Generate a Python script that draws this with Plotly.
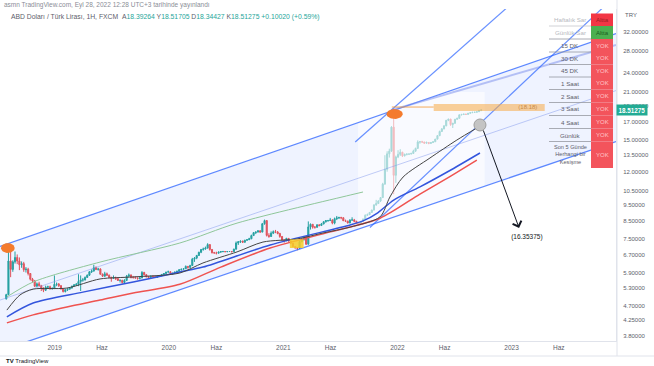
import math
import pandas as pd
import plotly.graph_objects as go

# ---------------- weekly candles, USD/TRY ----------------
first_week = "2018-07-30"
week_open = [
 4.92,5.07,6.42,6.05,6.38,6.58,6.42,6.25,6.30,6.04,6.06,5.88,5.65,5.58,5.38,5.47,5.40,5.31,5.23,5.34,5.36,5.28,5.29,
 5.45,5.46,5.40,5.28,5.18,5.25,5.27,5.32,5.38,5.43,5.45,5.56,5.62,5.62,5.72,5.81,5.95,5.98,6.12,6.05,6.07,5.85,5.77,5.87,5.81,
 5.72,5.68,5.72,5.67,5.60,5.61,5.52,5.60,5.77,5.82,5.72,5.72,5.70,5.68,5.70,5.92,5.83,5.75,5.72,5.77,5.75,5.72,5.77,5.78,5.84,5.88,5.94,
 5.95,5.88,5.89,5.94,5.97,6.04,6.06,6.08,6.18,6.14,6.22,6.50,6.55,6.67,6.82,6.96,6.98,7.03,7.20,6.96,6.80,6.79,6.78,6.83,6.86,6.86,
 6.85,6.86,6.86,6.85,6.97,7.28,7.35,7.38,7.32,7.42,7.45,7.50,7.67,7.83,7.86,7.93,7.86,8.33,8.52,7.68,7.62,7.80,7.88,7.86,7.78,7.62,
 7.43,7.40,7.52,7.38,7.27,7.10,7.04,7.02,7.35,7.48,7.62,7.22,8.15,8.30,8.13,8.13,8.27,8.23,8.32,8.45,8.52,8.52,8.55,8.37,8.63,8.68,
 8.70,8.69,8.51,8.48,8.38,8.55,8.56,8.48,8.39,8.30,8.48,8.60,8.84,8.88,9.02,9.17,9.51,9.60,9.77,10.01,11.00,12.20,13.60,13.86,16.40,11.70,
 13.30,13.55,13.75,13.42,13.55,13.58,13.58,13.64,13.86,14.13,14.78,14.80,14.77,14.66,14.73,14.63,14.72,14.80,15.08,15.45,15.91,16.20,
 16.55,17.20,17.35,16.70,16.85,17.32,17.45,17.88,17.93,17.96,17.93,18.07,18.15,18.20,18.20,18.27,18.45]
week_high = [
 5.10,6.88,7.21,6.45,6.86,6.72,6.58,6.40,6.38,6.15,6.12,5.90,5.70,5.62,5.52,5.55,5.43,5.33,5.40,5.40,5.40,5.34,5.80,
 5.52,5.50,5.42,5.30,5.27,5.30,5.34,5.40,5.46,5.50,5.85,5.80,5.70,5.76,5.84,5.98,6.05,6.25,6.18,6.12,6.10,5.88,5.95,5.92,5.84,
 5.75,5.80,5.75,5.70,5.63,5.62,5.65,5.82,5.88,5.84,5.78,5.76,5.72,5.74,5.98,5.95,5.86,5.78,5.80,5.80,5.78,5.78,5.80,5.86,5.90,5.95,6.00,
 5.98,5.91,5.96,6.00,6.06,6.08,6.10,6.22,6.20,6.25,6.56,6.60,6.70,6.85,6.98,7.05,7.10,7.27,7.22,6.98,6.84,6.85,6.86,6.88,6.89,6.87,
 6.88,6.88,6.88,7.00,7.36,7.38,7.40,7.40,7.45,7.48,7.55,7.72,7.86,7.90,7.96,7.96,8.38,8.58,8.55,7.80,7.90,7.95,7.98,7.92,7.82,7.65,
 7.48,7.55,7.54,7.40,7.28,7.12,7.08,7.42,7.55,7.65,7.65,8.47,8.35,8.32,8.20,8.30,8.30,8.38,8.48,8.55,8.56,8.68,8.60,8.70,8.80,8.75,
 8.75,8.72,8.58,8.52,8.60,8.72,8.62,8.50,8.42,8.50,8.65,8.90,8.95,9.05,9.20,9.55,9.85,9.82,10.05,11.10,13.47,13.85,14.10,16.50,18.36,13.43,
 13.95,14.05,13.80,13.62,13.62,13.62,13.70,14.00,14.20,14.95,14.85,14.90,14.80,14.82,14.76,14.78,14.85,15.10,15.50,16.00,16.30,16.60,
 17.25,17.38,17.38,16.90,17.38,17.50,17.90,17.98,18.00,18.00,18.10,18.18,18.22,18.25,18.30,18.48,18.52]
week_low = [
 4.90,5.06,5.73,5.95,6.30,6.28,6.02,6.12,5.95,5.92,5.80,5.60,5.52,5.35,5.36,5.37,5.20,5.16,5.20,5.28,5.25,5.26,5.28,
 5.38,5.35,5.25,5.15,5.15,5.20,5.25,5.28,5.36,5.40,5.38,5.20,5.55,5.60,5.70,5.78,5.90,5.96,6.02,6.00,5.83,5.74,5.75,5.78,5.70,
 5.55,5.66,5.62,5.58,5.52,5.48,5.50,5.58,5.74,5.68,5.67,5.67,5.63,5.64,5.69,5.80,5.72,5.68,5.70,5.72,5.70,5.70,5.74,5.77,5.82,5.87,5.92,
 5.84,5.83,5.88,5.90,5.96,6.00,6.03,6.07,6.08,6.10,6.20,6.38,6.50,6.65,6.78,6.90,6.95,7.00,6.90,6.77,6.76,6.72,6.76,6.80,6.82,6.83,
 6.83,6.84,6.82,6.84,6.96,7.18,7.28,7.28,7.30,7.40,7.44,7.48,7.65,7.75,7.84,7.82,7.85,8.28,7.62,7.55,7.60,7.75,7.80,7.74,7.55,7.40,
 7.30,7.38,7.35,7.25,7.08,7.00,6.92,7.00,7.32,7.40,7.18,7.20,8.00,8.05,8.05,8.10,8.18,8.20,8.30,8.40,8.45,8.50,8.30,8.30,8.55,8.62,
 8.60,8.50,8.45,8.35,8.36,8.52,8.42,8.35,8.28,8.28,8.45,8.58,8.80,8.86,9.00,9.15,9.45,9.58,9.70,9.98,10.95,12.00,13.25,13.80,10.25,11.10,
 13.20,13.40,13.30,13.35,13.45,13.50,13.55,13.60,13.80,14.10,14.60,14.70,14.60,14.62,14.55,14.60,14.68,14.78,15.05,15.40,15.85,16.15,
 16.50,17.10,16.55,16.30,16.80,17.28,17.40,17.80,17.85,17.88,17.90,18.05,18.10,18.12,18.18,18.25,18.34]
week_close = [
 5.07,6.42,6.05,6.38,6.58,6.42,6.25,6.30,6.04,6.06,5.88,5.65,5.58,5.38,5.47,5.40,5.31,5.23,5.34,5.36,5.28,5.29,5.45,
 5.46,5.40,5.28,5.18,5.25,5.27,5.32,5.38,5.43,5.45,5.56,5.62,5.62,5.72,5.81,5.95,5.98,6.12,6.05,6.07,5.85,5.77,5.87,5.81,5.72,
 5.68,5.72,5.67,5.60,5.61,5.52,5.60,5.77,5.82,5.72,5.72,5.70,5.68,5.70,5.92,5.83,5.75,5.72,5.77,5.75,5.72,5.77,5.78,5.84,5.88,5.94,5.95,
 5.88,5.89,5.94,5.97,6.04,6.06,6.08,6.18,6.14,6.22,6.50,6.55,6.67,6.82,6.96,6.98,7.03,7.20,6.96,6.80,6.79,6.78,6.83,6.86,6.86,6.85,
 6.86,6.86,6.85,6.97,7.28,7.35,7.38,7.32,7.42,7.45,7.50,7.67,7.83,7.86,7.93,7.86,8.33,8.52,7.68,7.62,7.80,7.88,7.86,7.78,7.62,7.43,
 7.40,7.52,7.38,7.27,7.10,7.04,7.02,7.35,7.48,7.62,7.22,8.15,8.30,8.13,8.13,8.27,8.23,8.32,8.45,8.52,8.52,8.55,8.37,8.63,8.68,8.70,
 8.69,8.51,8.48,8.38,8.55,8.56,8.48,8.39,8.30,8.48,8.60,8.84,8.88,9.02,9.17,9.51,9.60,9.77,10.01,11.00,12.20,13.60,13.86,16.40,11.70,13.30,
 13.55,13.75,13.42,13.55,13.58,13.58,13.64,13.86,14.13,14.78,14.80,14.77,14.66,14.73,14.63,14.72,14.80,15.08,15.45,15.91,16.20,16.55,
 17.20,17.35,16.70,16.85,17.32,17.45,17.88,17.93,17.96,17.93,18.07,18.15,18.20,18.20,18.27,18.45,18.51]

# ---------------- moving averages ----------------
ma_green_dates = ["2018-08-01","2018-10-24","2019-05-26","2020-02-05","2020-08-06","2021-08-03","2021-09-13"]
ma_green_vals = [4.99,5.54,6.37,7.28,8.37,10.19,10.41]
ma_black_dates = ["2018-08-01","2018-09-12","2018-10-24","2019-02-09","2019-05-26","2019-09-09","2020-02-05",
                  "2020-04-19","2020-08-06","2020-10-28","2021-02-14","2021-05-08","2021-08-03","2021-11-06",
                  "2021-12-08","2022-01-19","2022-04-15","2022-07-10","2022-09-12"]
ma_black_vals = [4.55,5.06,5.27,5.31,5.66,5.74,5.90,6.33,6.84,7.33,7.49,7.81,8.14,8.74,10.05,11.56,13.21,14.98,16.30]
ma_blue_dates = ["2018-08-01","2018-10-24","2019-04-01","2019-09-09","2020-02-05","2020-04-19","2020-11-20",
                 "2021-08-03","2021-09-13","2021-10-30","2021-12-20","2022-03-14","2022-06-15","2022-09-22"]
ma_blue_vals = [4.34,4.78,5.16,5.54,5.94,6.15,7.18,8.26,8.50,9.00,9.84,10.79,12.06,13.68]
ma_red_dates = ["2018-08-01","2018-10-24","2019-02-09","2019-05-26","2019-09-09","2020-02-05","2020-06-15",
                "2020-11-20","2021-06-01","2021-11-06","2022-03-14","2022-06-15","2022-09-12"]
ma_red_vals = [4.16,4.40,4.65,4.88,5.13,5.45,6.15,7.03,7.87,8.66,10.26,11.56,13.02]

# ---------------- drawings (anchor dates / prices) ----------------
channel_dates = ["2018-07-10", "2023-12-01"]
channel_upper = [7.11, 31.6]
channel_mid = [4.88, 21.19]
channel_lower = [3.42, 14.82]
peak_ray_dates = ["2021-12-14", "2023-12-01"]
peak_ray_vals = [18.49, 29.16]
steep_a_dates = ["2021-08-19", "2022-12-27"]
steep_a_vals = [14.78, 38.6]
steep_b_dates = ["2021-10-05", "2023-11-14"]
steep_b_vals = [8.12, 39.9]
light_box_dates = ["2021-08-28", "2022-10-07"]
light_box_vals = [7.98, 20.98]
yellow_box_dates = ["2021-01-22", "2021-03-07"]
yellow_box_vals = [7.03, 7.47]
orange_band_dates = ["2022-04-27", "2023-04-17"]
orange_band_vals = [18.36, 19.29]
orange_line_dates = ["2021-12-14", "2022-04-27"]
orange_line_vals = [18.88, 18.88]
orange_band_label = ("2023-02-22", 18.88, "(18.18)")
ellipse_left = ("2018-08-04", 7.03)
ellipse_peak = ("2021-12-23", 17.98)
gray_point = ("2022-09-22", 16.65)
arrow_tail = ("2022-10-01", 16.19)
arrow_head = ("2023-01-25", 8.09)
arrow_label = ("2023-02-19", 7.59, "(16.35375)")

last_price = 18.51275
y_ticks = [3.8, 4.25, 4.7, 5.3, 5.9, 6.7, 7.5, 8.5, 9.5, 10.5, 12, 13.5, 15, 17, 19, 21, 24, 28, 32]
x_tick_dates = ["2019-01-01","2019-06-01","2020-01-01","2020-06-01","2021-01-01","2021-06-01",
                "2022-01-01","2022-06-01","2023-01-01","2023-06-01"]
x_tick_text = ["2019","Haz","2020","Haz","2021","Haz","2022","Haz","2023","Haz"]

table_labels = ["Haftalık Sar","Günlük Sar","15 DK","30 DK","45 DK","1 Saat","2 Saat","3 Saat","4 Saat",
                "Günlük","Son 5 Günde<br>Herhangi bir<br>Kesişme"]
table_values = ["Altta","Altta","YOK","YOK","YOK","YOK","YOK","YOK","YOK","YOK","YOK"]

# ---------------- layout constants ----------------
W, H = 654, 366
PR, PT, PB = 616, 9, 341
X_RANGE = ["2018-07-10", "2023-12-01"]
Y_MIN, Y_MAX = 3.6638, 37.53
LY0, LY1 = math.log10(Y_MIN), math.log10(Y_MAX)
FONT = "Liberation Sans"

def PX(px):
    return px / PR

def PY(py):
    return (PB - py) / (PB - PT)

def ellipse(center, rx_days, ry_log, n=48):
    c = pd.Timestamp(center[0])
    xs, ys = [], []
    for i in range(n + 1):
        th = 2 * math.pi * i / n
        xs.append(c + pd.Timedelta(days=rx_days * math.cos(th)))
        ys.append(center[1] * math.exp(ry_log * math.sin(th)))
    return xs, ys

def box(dates, vals):
    return ([dates[0], dates[1], dates[1], dates[0], dates[0]],
            [vals[0], vals[0], vals[1], vals[1], vals[0]])

fig = go.Figure()

def line(x, y, color, width, shape="linear", dash="solid"):
    fig.add_trace(go.Scatter(x=x, y=y, mode="lines", hoverinfo="skip",
                             line=dict(color=color, width=width, shape=shape, smoothing=0.8, dash=dash)))

def poly(x, y, fill, lc="rgba(0,0,0,0)", lw=0):
    fig.add_trace(go.Scatter(x=x, y=y, mode="lines", fill="toself", fillcolor=fill, hoverinfo="skip",
                             line=dict(color=lc, width=lw)))

def label(px, py, text, size, color, xanchor="center"):
    fig.add_annotation(xref="paper", yref="paper", x=PX(px), y=PY(py), xanchor=xanchor, yanchor="middle",
                       text=text, showarrow=False, font=dict(family=FONT, size=size, color=color))

# channel fill
cx = [channel_dates[0], channel_dates[1], channel_dates[1], channel_dates[0], channel_dates[0]]
cy = [channel_upper[0], channel_upper[1], channel_lower[1], channel_lower[0], channel_upper[0]]
poly(cx, cy, "rgba(41,98,255,0.075)")
bx, by = box(light_box_dates, light_box_vals)
poly(bx, by, "rgba(255,255,255,0.6)")

# trend lines
line(channel_dates, channel_mid, "rgba(120,145,235,0.45)", 1)
line(channel_dates, channel_lower, "rgba(41,98,255,0.75)", 1.3)
line(channel_dates, channel_upper, "rgba(41,98,255,0.75)", 1.3)
line(peak_ray_dates, peak_ray_vals, "rgba(120,140,235,0.5)", 2)
line(steep_a_dates, steep_a_vals, "rgba(41,98,255,0.7)", 1.2)
line(steep_b_dates, steep_b_vals, "rgba(41,98,255,0.7)", 1.2)

# moving averages
line(ma_green_dates, ma_green_vals, "#8fc79a", 1, "spline")
line(ma_red_dates, ma_red_vals, "#ef5350", 1.5, "spline")
line(ma_blue_dates, ma_blue_vals, "#3355dd", 1.5, "spline")
line(ma_black_dates, ma_black_vals, "#444444", 1, "spline")

# yellow highlight
yx, yy = box(yellow_box_dates, yellow_box_vals)
poly(yx, yy, "rgba(247,205,40,0.85)")

# candles
weeks = pd.date_range(first_week, periods=len(week_close), freq="7D")
fig.add_trace(go.Candlestick(
    x=weeks, open=week_open, high=week_high, low=week_low, close=week_close,
    increasing=dict(line=dict(color="#26a69a", width=1), fillcolor="#26a69a"),
    decreasing=dict(line=dict(color="#ef5350", width=1), fillcolor="#ef5350"),
    hoverinfo="skip"))

# orange marks
ex, ey = ellipse(ellipse_left, 22, 0.035)
poly(ex, ey, "#f47b2e")
ex, ey = ellipse(ellipse_peak, 26, 0.035)
poly(ex, ey, "#f47b2e")
ox, oy = box(orange_band_dates, orange_band_vals)
poly(ox, oy, "rgba(248,170,70,0.55)")
line(orange_line_dates, orange_line_vals, "rgba(245,150,50,0.8)", 1)
fig.add_trace(go.Scatter(x=[orange_band_label[0]], y=[orange_band_label[1]], mode="text",
                         text=[orange_band_label[2]], hoverinfo="skip",
                         textfont=dict(family=FONT, size=6, color="#c98a45")))

# gray point + arrow
fig.add_trace(go.Scatter(x=[gray_point[0]], y=[gray_point[1]], mode="markers", hoverinfo="skip",
                         marker=dict(size=12, color="#c4c4c4", line=dict(color="#9e9e9e", width=1))))
fig.add_annotation(x=arrow_head[0], y=math.log10(arrow_head[1]), ax=arrow_tail[0], ay=math.log10(arrow_tail[1]),
                   xref="x", yref="y", axref="x", ayref="y", text="", showarrow=True,
                   arrowhead=4, arrowsize=1.8, arrowwidth=1, arrowcolor="#131722")
fig.add_trace(go.Scatter(x=[arrow_label[0]], y=[arrow_label[1]], mode="text", text=[arrow_label[2]],
                         hoverinfo="skip", textfont=dict(family=FONT, size=6.5, color="#131722")))

# ---------------- table (top right) ----------------
row_edges = [13.5, 26, 39, 52, 64.5, 77, 89.5, 102.5, 115.5, 128.5, 141.5, 168]
LX0, LX1, VX1 = 549, 591, 613
for i, (lab, val) in enumerate(zip(table_labels, table_values)):
    y0, y1 = row_edges[i], row_edges[i + 1]
    if i == 0:
        cell, tc = "#f23645", "#9b1c24"
    elif i == 1:
        cell, tc = "#4caf50", "#1b5e20"
    else:
        cell, tc = "#f3545c", "#ffc4c8"
    fig.add_shape(type="rect", xref="paper", yref="paper", x0=PX(LX1), x1=PX(VX1), y0=PY(y1), y1=PY(y0),
                  fillcolor=cell, line=dict(width=0), layer="above")
    label((LX1 + VX1) / 2, (y0 + y1) / 2, val, 6, tc)
    lc = "#b6b9c0" if i < 2 else "#5d606b"
    fs = 5.6 if i == 10 else 6.2
    label((LX0 + LX1) / 2, (y0 + y1) / 2, lab, fs, lc)
    if i < 10:
        fig.add_shape(type="line", xref="paper", yref="paper", x0=PX(LX0), x1=PX(LX1), y0=PY(y1), y1=PY(y1),
                      line=dict(color="#c5c7cc" if i < 1 else "#9598a1", width=0.8), layer="above")

# ---------------- header texts ----------------
label(2, 4.5, "asmn TradingView.com, Eyl 28, 2022 12:28 UTC+3 tarihinde yayınlandı", 6.5, "#8a8d96", "left")
teal = "#26a69a"
title = ("ABD Doları / Türk Lirası, 1H, FXCM&nbsp;&nbsp;"
         f"A<span style='color:{teal}'>18.39264</span> Y<span style='color:{teal}'>18.51705</span> "
         f"D<span style='color:{teal}'>18.34427</span> K<span style='color:{teal}'>18.51275</span> "
         f"<span style='color:{teal}'>+0.10020 (+0.59%)</span>")
label(9, 17, title, 6.8, "#5d606b", "left")
label(623, 15, "TRY", 6, "#5d606b", "left")
fig.add_annotation(xref="paper", yref="paper", x=PX(632.5),
                   y=(math.log10(last_price) - LY0) / (LY1 - LY0), xanchor="center", yanchor="middle",
                   text=f"<b>{last_price:.5f}</b>", showarrow=False, bgcolor="#22ab94", borderpad=1.5,
                   font=dict(family=FONT, size=6.3, color="white"))
label(4, 361, "<b>TV</b> TradingView", 6, "#131722", "left")

# frame lines
fig.add_shape(type="line", xref="paper", yref="paper", x0=PX(617), x1=PX(617), y0=PY(356), y1=PY(0),
              line=dict(color="#e0e3eb", width=1))
fig.add_shape(type="line", xref="paper", yref="paper", x0=PX(0), x1=PX(654), y0=PY(356), y1=PY(356),
              line=dict(color="#e0e3eb", width=1))

fig.update_layout(
    width=W, height=H, margin=dict(l=0, r=W - PR, t=PT, b=H - PB),
    paper_bgcolor="white", plot_bgcolor="white", showlegend=False, hovermode=False,
    xaxis=dict(type="date", range=X_RANGE, tickvals=x_tick_dates, ticktext=x_tick_text,
               showgrid=False, zeroline=False, showline=True, linecolor="#e0e3eb",
               tickfont=dict(family=FONT, size=6.5, color="#5d606b"), rangeslider=dict(visible=False),
               fixedrange=True),
    yaxis=dict(type="log", range=[LY0, LY1], side="right", tickvals=y_ticks,
               ticktext=[f"{v:.5f}" for v in y_ticks], showgrid=False, zeroline=False,
               showline=True, linecolor="#e0e3eb", ticklabelstandoff=5,
               tickfont=dict(family=FONT, size=6, color="#5d606b"), fixedrange=True),
)

fig.write_html("out.html", config={"displayModeBar": False},
               post_script="document.body.style.margin='0px';document.body.style.overflow='hidden';")
